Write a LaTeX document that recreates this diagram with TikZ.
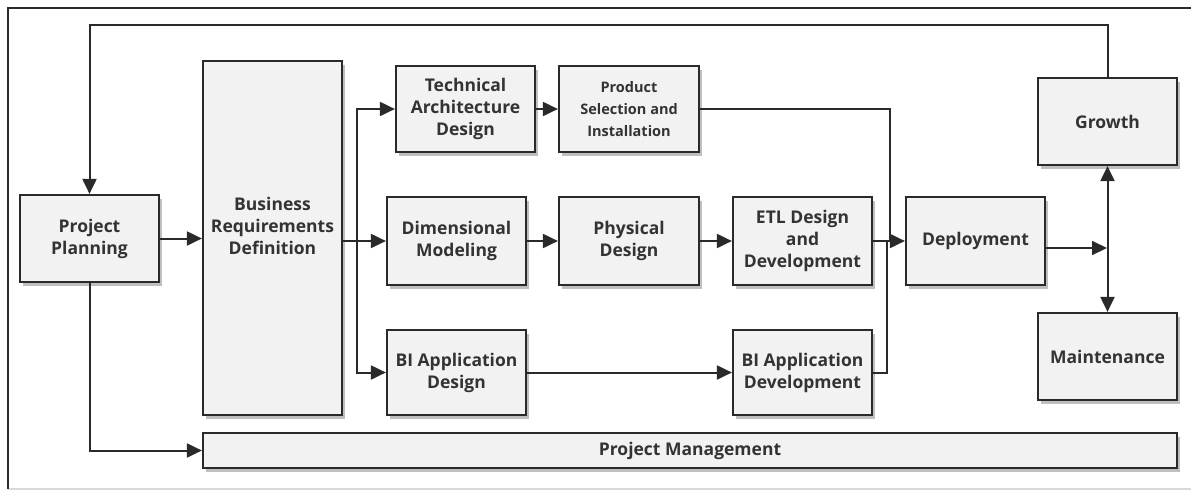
\documentclass[tikz,border=0pt]{standalone}
\usepackage{fontspec}
\setmainfont{Open Sans}
\usetikzlibrary{arrows.meta,shadows}
\definecolor{boxfill}{HTML}{F2F2F2}
\definecolor{ln}{HTML}{2A2A2A}
\definecolor{txt}{HTML}{333333}
\begin{document}
\begin{tikzpicture}[x=1pt,y=-1pt,
  box/.style={draw=ln, line width=2.2pt, fill=boxfill, align=center, inner sep=0pt,
    font=\bfseries\fontsize{17.5}{22}\selectfont, text=txt,
    drop shadow={shadow xshift=3pt, shadow yshift=-4pt, opacity=0.25, fill=black}},
  conn/.style={draw=ln, line width=2pt},
  arr/.style={conn, -{Triangle[length=15pt,width=14pt]}},
  arrb/.style={conn, {Triangle[length=15pt,width=14pt]}-{Triangle[length=15pt,width=14pt]}}]
\useasboundingbox (0,0) rectangle (1191,490);
\draw[draw=black!15, line width=2pt] (8,488.5) -- (1191,488.5);
\draw[draw=ln, line width=2.8pt] (8,489) -- (8,8) -- (1191,8);

\node[box, minimum width=139pt, minimum height=87pt] (pp) at (89.5,238.5) {Project\\Planning};
\node[box, minimum width=139pt, minimum height=354pt] (brd) at (272.5,238) {};
\node[align=center, font=\bfseries\fontsize{17.5}{22}\selectfont, text=txt] (brdtext) at (272.5,226) {Business\\Requirements\\Definition};
\node[box, minimum width=139pt, minimum height=86pt] (ta) at (465.5,109) {Technical\\Architecture\\Design};
\node[box, minimum width=140pt, minimum height=86pt, font=\bfseries\fontsize{14.5}{22}\selectfont] (ps) at (629,109) {Product\\Selection and\\Installation};
\node[box, minimum width=139pt, minimum height=88pt] (dm) at (456.5,241) {Dimensional\\Modeling};
\node[box, minimum width=140pt, minimum height=88pt] (phy) at (629,241) {Physical\\Design};
\node[box, minimum width=139pt, minimum height=88pt] (etl) at (802.5,241) {ETL Design\\and\\Development};
\node[box, minimum width=139pt, minimum height=88pt] (dep) at (975.5,241) {Deployment};
\node[box, minimum width=139pt, minimum height=87pt] (gr) at (1107.5,121.5) {Growth};
\node[box, minimum width=139pt, minimum height=87pt] (mt) at (1107.5,356.5) {Maintenance};
\node[box, minimum width=139pt, minimum height=85pt] (bad) at (456.5,372.5) {BI Application\\Design};
\node[box, minimum width=139pt, minimum height=85pt] (badv) at (802.5,372.5) {BI Application\\Development};
\node[box, minimum width=974pt, minimum height=35pt] (pm) at (690,450.5) {Project Management};

\coordinate (top) at (89.5,25);
\coordinate (j1) at (357,241);
\coordinate (j2) at (890,241);
\coordinate (j3) at (887,241);
\coordinate (j4) at (1107,248);

\draw[arr] (gr.north) |- (top) -- (pp.north);
\draw[arr] (pp.east) -- (brd.west |- pp.east);
\draw[conn] (brd.east |- j1) -- (j1);
\draw[arr] (j1) |- (ta.west);
\draw[arr] (j1) -- (dm.west);
\draw[arr] (j1) |- (bad.west);
\draw[arr] (ta.east) -- (ps.west);
\draw[arr] (dm.east) -- (phy.west);
\draw[arr] (phy.east) -- (etl.west);
\draw[arr] (etl.east) -- (dep.west);
\draw[conn] (ps.east) -| (j2);
\draw[conn] (badv.east) -| (j3);
\draw[arr] (bad.east) -- (badv.west);
\draw[arr] (dep.east |- j4) -- (j4);
\draw[arrb] (gr.south) -- (mt.north);
\draw[arr] (pp.south) |- (pm.west);
\end{tikzpicture}
\end{document}
